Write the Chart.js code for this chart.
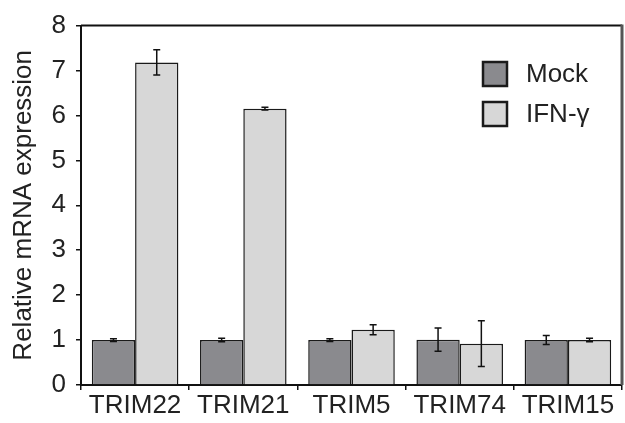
<!DOCTYPE html>
<html>
<head>
    <meta charset="UTF-8">
    <title>Relative mRNA expression</title>
    <script src="https://cdn.jsdelivr.net/npm/chart.js"></script>
    <style>
        body { margin: 0; background: #fff; }
        #wrap { width: 625px; height: 423px; }
    </style>
</head>
<body>
<div id="wrap"><canvas id="chart" width="625" height="423"></canvas></div>

<script>
    // Data
    const genes = ['TRIM22', 'TRIM21', 'TRIM5', 'TRIM74', 'TRIM15'];
    const mockValues = [1.0, 1.0, 1.0, 1.01, 1.0];
    const mockErrors = [0.03, 0.04, 0.03, 0.26, 0.10];
    const ifnValues = [7.18, 6.15, 1.23, 0.92, 1.0];
    const ifnErrors = [0.28, 0.03, 0.11, 0.51, 0.04];
    const seriesNames = ['Mock', 'IFN-\u03b3'];

    const FONT = "'Liberation Sans', Arial, sans-serif";
    const TEXT = '#222';

    // error bars drawn on top of each bar
    const errorBars = {
        id: 'errorBars',
        afterDatasetsDraw(chart) {
            const ctx = chart.ctx;
            const y = chart.scales.y;
            ctx.save();
            ctx.strokeStyle = '#111';
            ctx.lineWidth = 1.5;
            chart.data.datasets.forEach((ds, di) => {
                const meta = chart.getDatasetMeta(di);
                meta.data.forEach((bar, i) => {
                    const v = ds.data[i], e = ds.errors[i];
                    const top = y.getPixelForValue(v + e);
                    const bot = y.getPixelForValue(v - e);
                    ctx.beginPath();
                    ctx.moveTo(bar.x, top); ctx.lineTo(bar.x, bot);
                    ctx.moveTo(bar.x - 3.5, top); ctx.lineTo(bar.x + 3.5, top);
                    ctx.moveTo(bar.x - 3.5, bot); ctx.lineTo(bar.x + 3.5, bot);
                    ctx.stroke();
                });
            });
            ctx.restore();
        }
    };

    // top and right edges of the frame, plus the legend inside the plot
    const frameAndLegend = {
        id: 'frameAndLegend',
        afterDraw(chart) {
            const ctx = chart.ctx;
            const a = chart.chartArea;
            ctx.save();
            ctx.strokeStyle = '#111';
            ctx.lineWidth = 2;
            ctx.beginPath();
            ctx.moveTo(a.left, a.top); ctx.lineTo(a.right, a.top);
            ctx.stroke();
            ctx.strokeStyle = '#555';
            ctx.lineWidth = 3;
            ctx.beginPath();
            ctx.moveTo(a.right, a.top - 1); ctx.lineTo(a.right, a.bottom);
            ctx.stroke();

            const bx = 483, size = 24, rows = [62, 102];
            chart.data.datasets.forEach((ds, i) => {
                ctx.fillStyle = ds.backgroundColor;
                ctx.fillRect(bx, rows[i], size, size);
                ctx.strokeStyle = '#1a1a1a';
                ctx.lineWidth = 2.5;
                ctx.strokeRect(bx, rows[i], size, size);
                ctx.fillStyle = TEXT;
                ctx.font = '26px ' + FONT;
                ctx.textBaseline = 'middle';
                ctx.fillText(ds.label, 526, rows[i] + size / 2 + 1);
            });
            ctx.restore();
        }
    };

    new Chart(document.getElementById('chart'), {
        type: 'bar',
        data: {
            labels: genes,
            datasets: [
                { label: seriesNames[0], data: mockValues, errors: mockErrors, backgroundColor: '#8a8a8e' },
                { label: seriesNames[1], data: ifnValues, errors: ifnErrors, backgroundColor: '#d7d7d7' }
            ]
        },
        options: {
            responsive: false,
            animation: false,
            layout: { padding: { top: 22, right: 3, left: 0, bottom: 0 } },
            datasets: {
                bar: {
                    borderColor: '#1a1a1a',
                    borderWidth: 1.5,
                    borderSkipped: 'bottom',
                    categoryPercentage: 0.8,
                    barPercentage: 1.0
                }
            },
            plugins: {
                legend: { display: false },
                tooltip: { enabled: false }
            },
            scales: {
                x: {
                    afterFit: s => { s.height = 38; },
                    grid: { offset: true, drawOnChartArea: false, tickLength: 5, color: '#111', lineWidth: 1.5 },
                    border: { color: '#111', width: 2 },
                    ticks: { font: { family: FONT, size: 26 }, color: TEXT, padding: 0 }
                },
                y: {
                    min: 0,
                    max: 8,
                    afterFit: s => { s.width = 81; },
                    grid: { drawOnChartArea: false, tickLength: 5, color: '#111', lineWidth: 1.5 },
                    border: { color: '#111', width: 2 },
                    ticks: { stepSize: 1, font: { family: FONT, size: 26 }, color: TEXT, padding: 10 },
                    title: {
                        display: true,
                        text: 'Relative mRNA expression',
                        font: { family: FONT, size: 26 },
                        color: TEXT,
                        padding: { top: 8, bottom: 0 }
                    }
                }
            }
        },
        plugins: [errorBars, frameAndLegend]
    });
</script>
</body>
</html>
